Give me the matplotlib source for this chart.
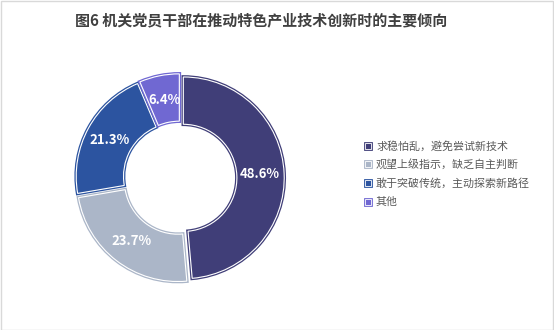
import matplotlib.pyplot as plt
import matplotlib.patheffects as pe
from matplotlib.patches import Rectangle

plt.rcParams['font.family'] = ['Noto Sans CJK SC', 'DejaVu Sans']

categories = ['求稳怕乱，避免尝试新技术', '观望上级指示，缺乏自主判断',
              '敢于突破传统，主动探索新路径', '其他']
values = [48.6, 23.7, 21.3, 6.4]
colors = ['#403e78', '#abb6c8', '#2c54a0', '#7068d2']
title = '图6 机关党员干部在推动特色产业技术创新时的主要倾向'

W, H = 554, 330
fig = plt.figure(figsize=(W / 100, H / 100), dpi=100)
fig.patches.append(Rectangle((0.5 / W, 0.5 / H), 1 - 1.5 / W, 1 - 1.5 / H,
                             transform=fig.transFigure, fill=False,
                             edgecolor='#d9d9d9', linewidth=1))

fig.text(261 / W, 1 - 20 / H, title, ha='center', va='center',
         fontsize=10.8, fontweight='bold', color='#404040')

# donut axes, centre at (180,178) px
cx, cy, side = 180, 178, 260
ax = fig.add_axes([(cx - side / 2) / W, (H - cy - side / 2) / H, side / W, side / H])
ax.set_xlim(-1.15, 1.15)
ax.set_ylim(-1.15, 1.15)
ax.set_aspect('equal')
ax.axis('off')

wedges, texts, autotexts = ax.pie(
    values, colors=colors, startangle=90, counterclock=False,
    radius=0.97, explode=[0.032] * 4,
    wedgeprops=dict(width=0.455, edgecolor='white', linewidth=0.8),
    autopct='%1.1f%%', pctdistance=0.76,
    textprops=dict(color='white', fontsize=9.5, fontweight='bold'))
for w, c in zip(wedges, colors):
    w.set_path_effects([pe.Stroke(linewidth=2.6, foreground=c), pe.Normal()])

# legend
ly = [146, 164, 183, 202]
for y, lab, c in zip(ly, categories, colors):
    fig.patches.append(Rectangle(((368 - 3) / W, (H - y - 3) / H), 6 / W, 6 / H,
                                 transform=fig.transFigure, facecolor=c,
                                 edgecolor='white', linewidth=0.6,
                                 path_effects=[pe.Stroke(linewidth=2, foreground=c), pe.Normal()]))
    fig.text(376 / W, 1 - y / H, lab, ha='left', va='center',
             fontsize=7.9, color='#595959')

fig.savefig('out.png', dpi=100)
